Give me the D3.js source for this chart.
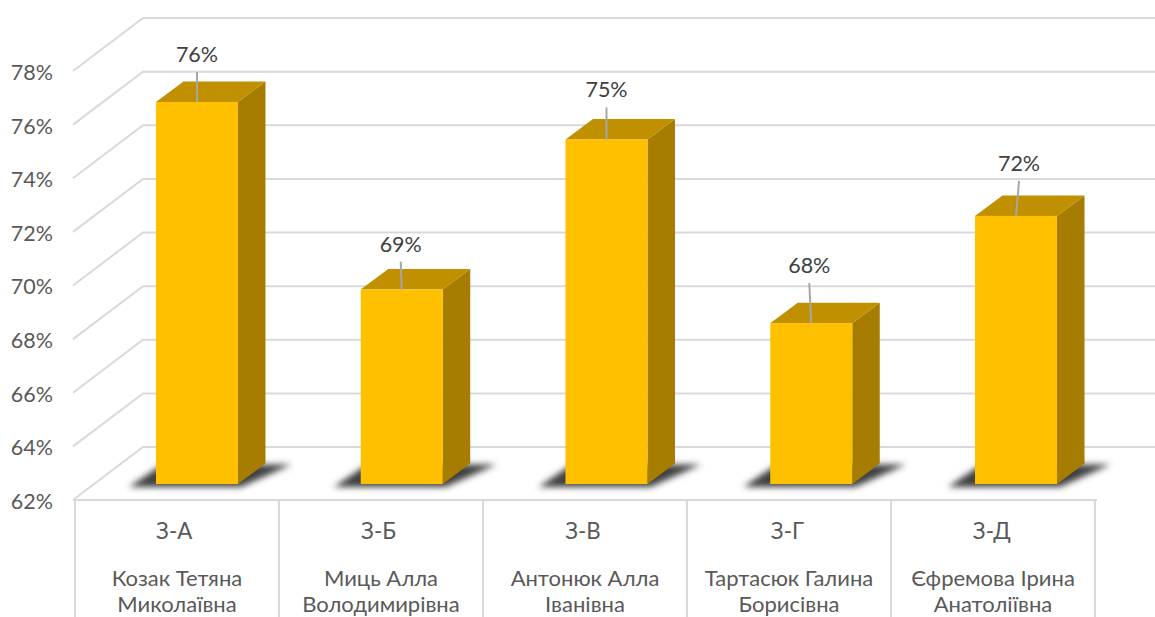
<!DOCTYPE html>
<html><head><meta charset="utf-8">
<script src="https://cdn.jsdelivr.net/npm/d3@7"></script>
<style>
html,body{margin:0;padding:0;background:#fff}
svg{display:block}
text{font-family:Lato,"Open Sans","Noto Sans",sans-serif;}
</style></head><body>
<svg id="c" width="1155" height="617"></svg>
<script>
const classes=["З-А","З-Б","З-В","З-Г","З-Д"];
const teacherLine1=["Козак Тетяна","Миць Алла","Антонюк Алла","Тартасюк Галина","Єфремова Ірина"];
const teacherLine2=["Миколаївна","Володимирівна","Іванівна","Борисівна","Анатоліївна"];
const values=[76.25,69.25,74.85,68.0,72.0];
const valueLabels=["76%","69%","75%","68%","72%"];
const yTicks=[62,64,66,68,70,72,74,76,78];
const labelShift=[0,-1,0,-2,3];
const labelRise=[30,28,32,40,35];

const W=1155,H=617;
const svg=d3.select("#c");
const leftX=75,rightX=1095,bottomY=500,topY=71;
const depthX=70,depthY=-53;
const y=d3.scaleLinear().domain([62,78]).range([bottomY,topY]);
const xCells=d3.scaleBand().domain(classes).range([leftX,rightX]);
const xLabels=d3.scaleBand().domain(classes).range([72,1094]);
const xBars=d3.scaleBand().domain(classes).range([94.6,1118.4]);
const grid="#d9d9d9";
const BAR_W=82;
const poly=(pts)=>pts.map(p=>p.join(",")).join(" ");

const defs=svg.append("defs");
defs.append("filter").attr("id","blur").attr("x","-20%").attr("y","-60%").attr("width","140%").attr("height","220%")
  .append("feGaussianBlur").attr("stdDeviation",3);

const g=svg.append("g").attr("fill","none").attr("stroke",grid).attr("stroke-width",2);
yTicks.forEach(t=>{
  const yy=y(t);
  g.append("polyline").attr("points",poly([[leftX-2,yy],[leftX-2+depthX,yy+depthY],[W,yy+depthY]]));
});
g.append("line").attr("x1",leftX-2).attr("x2",rightX+2).attr("y1",bottomY).attr("y2",bottomY);
classes.forEach(c=>{
  const xx=xCells(c);
  g.append("line").attr("x1",xx).attr("x2",xx).attr("y1",bottomY).attr("y2",H);
});
g.append("line").attr("x1",rightX).attr("x2",rightX).attr("y1",bottomY).attr("y2",H);

const axis=d3.axisLeft(y).tickValues(yTicks).tickFormat(d=>d+"%").tickSize(0).tickPadding(0);
const ax=svg.append("g").attr("transform","translate(53,1.5)").call(axis);
ax.select(".domain").remove();
ax.selectAll("text").attr("font-size",21.5).attr("fill","#595959")
  .style("font-family",'Lato,"Open Sans",sans-serif');

const floorY=bottomY-16;
const bars=svg.selectAll("g.bar").data(classes).join("g").attr("class","bar");
bars.each(function(c,i){
  const b=d3.select(this);
  const mid=xBars(c)+xBars.bandwidth()/2;
  const L=mid-BAR_W/2,R=L+BAR_W;
  const T=y(values[i])-16;
  const dx=27.5,dy=-20.5;
  b.append("polygon").attr("points",poly([[L-27,floorY+3],[R+3,floorY+3],[R+dx+26,floorY+dy+1],[R+dx-4,floorY+dy+1],[L+4,floorY-18]]))
    .attr("fill","#404040").attr("filter","url(#blur)");
  b.append("polygon").attr("points",poly([[R,T],[R+dx,T+dy],[R+dx,floorY+dy],[R,floorY]])).attr("fill","#a67d00");
  b.append("polygon").attr("points",poly([[L,T],[L+dx,T+dy],[R+dx,T+dy],[R,T]])).attr("fill","#c09000");
  b.append("rect").attr("x",L).attr("y",T).attr("width",BAR_W).attr("height",floorY-T).attr("fill","#ffc000");
  const sh=labelShift[i];
  b.append("line").attr("x1",mid).attr("y1",T).attr("x2",mid+sh).attr("y2",T-labelRise[i])
    .attr("stroke","#a6a6a6").attr("stroke-width",2);
  b.append("text").attr("x",mid+sh).attr("y",T-labelRise[i]-10).attr("text-anchor","middle")
    .attr("font-size",21.5).attr("fill","#404040").text(valueLabels[i]);
  svg.append("text").attr("x",xLabels(c)+xLabels.bandwidth()/2).attr("y",539).attr("text-anchor","middle")
    .attr("font-size",22.3).attr("fill","#595959").text(classes[i]);
  const nx=xCells(c)+xCells.bandwidth()/2;
  [[teacherLine1[i],586],[teacherLine2[i],611.5]].forEach(([s,yy])=>{
    svg.append("text").attr("x",nx).attr("y",yy).attr("text-anchor","middle")
      .attr("font-size",22).attr("fill","#595959").text(s);
  });
});
</script>
</body></html>
